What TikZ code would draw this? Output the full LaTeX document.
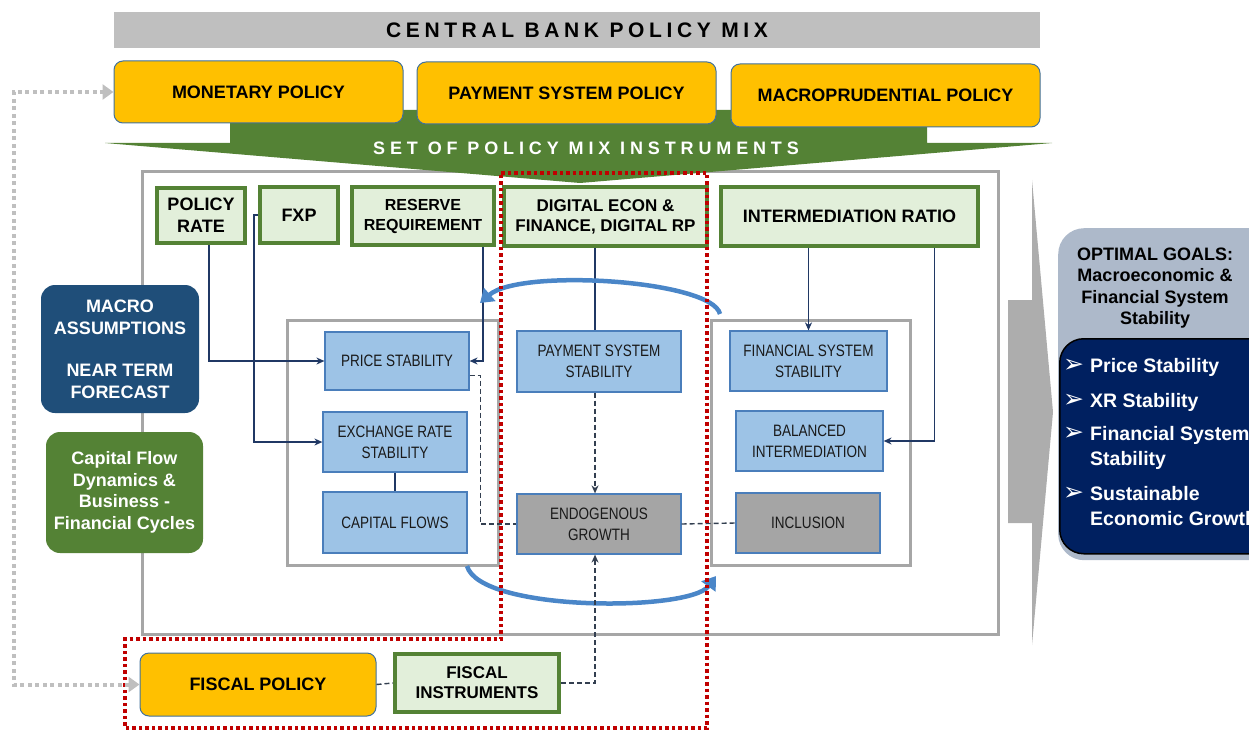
\documentclass[tikz,border=0pt]{standalone}
\usepackage{fontspec}
\setmainfont{Liberation Sans}
\newfontfamily\narrowfont[FakeStretch=0.82]{Liberation Sans}
\newfontfamily\spacedfont[LetterSpace=22]{Liberation Sans}
\newfontfamily\widespacedfont[LetterSpace=27]{Liberation Sans}
\newfontfamily\symfont{DejaVu Sans}
\usetikzlibrary{arrows.meta,calc}

\definecolor{banner}{HTML}{BFBFBF}
\definecolor{gold}{HTML}{FFC000}
\definecolor{goldline}{HTML}{41719C}
\definecolor{leaf}{HTML}{548235}
\definecolor{mint}{HTML}{E2EFDA}
\definecolor{sky}{HTML}{9DC3E6}
\definecolor{skyline}{HTML}{4A7EBB}
\definecolor{stone}{HTML}{A5A5A5}
\definecolor{framegray}{HTML}{A6A6A6}
\definecolor{navyline}{HTML}{203864}
\definecolor{dashcol}{HTML}{333F50}
\definecolor{deepblue}{HTML}{1F4E79}
\definecolor{slate}{HTML}{ADB9CA}
\definecolor{navy}{HTML}{002060}
\definecolor{redline}{HTML}{C00000}
\definecolor{loopblue}{HTML}{4A86C8}
\definecolor{fback}{HTML}{BFBFBF}
\definecolor{arrowgray}{HTML}{ADADAD}
\definecolor{textdark}{HTML}{1A1A1A}

\tikzset{
  every node/.style={inner sep=0pt, align=center},
  yellowbox/.style={draw=goldline, line width=1pt, fill=gold, rounded corners=9pt,
    font=\fontsize{18}{21}\selectfont\bfseries},
  instbox/.style={draw=leaf, line width=4pt, fill=mint},
  bluebox/.style={draw=skyline, line width=1.2pt, fill=sky, text=textdark,
    font=\narrowfont\fontsize{16.5}{21}\selectfont},
  graybox/.style={bluebox, fill=stone},
  framebox/.style={draw=framegray, line width=3pt},
  conn/.style={draw=navyline, line width=1.5pt, -{Stealth[length=8pt,width=7pt]}},
  linkline/.style={draw=navyline, line width=1.5pt},
  dashlink/.style={draw=dashcol, line width=1.4pt, dash pattern=on 5pt off 3pt},
  dasharrow/.style={dashlink, -{Stealth[length=8pt,width=7pt]}},
  loopline/.style={draw=loopblue, line width=4.5pt, -{Triangle[length=13pt,width=17pt]}},
  redzone/.style={draw=redline, line width=3.5pt, dash pattern=on 3.5pt off 3pt},
  feedback/.style={draw=fback, line width=4pt, dash pattern=on 4pt off 3.5pt,
    {Triangle[length=11pt,width=15pt]}-{Triangle[length=11pt,width=15pt]}},
  goalitem/.style={anchor=base west, text=white, font=\fontsize{19.5}{22}\selectfont\bfseries},
  bulletmark/.style={anchor=base west, text=white, font=\symfont\fontsize{25}{28}\selectfont},
}

\begin{document}
\begin{tikzpicture}[x=1pt,y=-1pt]
\useasboundingbox (0,0) rectangle (1249,730);
\clip (0,0) rectangle (1249,730);

% outer frame of the policy mix
\node[framebox, minimum width=856pt, minimum height=462pt] (outer) at (570,403) {};

% instrument banner (green arrow)
\fill[leaf] (230,110) -- (927,110) -- (927,143) -- (1052,143) -- (580,183) -- (105,143) -- (230,143) -- cycle;
\node[text=white, font=\widespacedfont\fontsize{18}{20}\selectfont\bfseries] (mixlabel) at (586,148.5) {SET OF POLICY MIX INSTRUMENTS};

% title banner
\node[fill=banner, minimum width=926pt, minimum height=36pt,
      font=\spacedfont\fontsize{21}{24}\selectfont\bfseries] (title) at (577,30) {CENTRAL BANK POLICY MIX};

% policy pillars
\node[yellowbox, minimum width=289pt, minimum height=62pt] (mon) at (258.5,92) {MONETARY POLICY};
\node[yellowbox, minimum width=299pt, minimum height=62pt] (pay) at (566.5,93) {PAYMENT SYSTEM POLICY};
\node[yellowbox, minimum width=309pt, minimum height=63pt] (mpp) at (885.5,95.5) {MACROPRUDENTIAL POLICY};

% instruments
\node[instbox, minimum width=88pt, minimum height=55pt, font=\fontsize{18}{22}\selectfont\bfseries] (prate) at (201,215.5) {POLICY\\RATE};
\node[instbox, minimum width=78pt, minimum height=56pt, font=\fontsize{18}{22}\selectfont\bfseries] (fxp) at (299,215) {FXP};
\node[instbox, minimum width=142pt, minimum height=58pt, font=\fontsize{16}{20}\selectfont\bfseries] (rr) at (423,216) {RESERVE\\REQUIREMENT};
\node[instbox, minimum width=203pt, minimum height=59pt, font=\fontsize{17}{20}\selectfont\bfseries] (dig) at (605.5,216.5) {DIGITAL ECON \&\\FINANCE, DIGITAL RP};
\node[instbox, minimum width=257pt, minimum height=59pt, font=\fontsize{18}{22}\selectfont\bfseries] (ir) at (849.5,216.5) {INTERMEDIATION RATIO};

% inner frames
\node[framebox, minimum width=211pt, minimum height=245pt] (lframe) at (392.5,442.5) {};
\node[framebox, minimum width=199pt, minimum height=245pt] (rframe) at (810.5,442.5) {};

% targets
\node[bluebox, minimum width=144pt, minimum height=58pt] (ps) at (397,361) {PRICE STABILITY};
\node[bluebox, minimum width=144pt, minimum height=60pt] (ers) at (395,442) {EXCHANGE RATE\\STABILITY};
\node[bluebox, minimum width=144pt, minimum height=61pt] (cf) at (395,522.5) {CAPITAL FLOWS};
\node[bluebox, minimum width=164pt, minimum height=61pt] (pss) at (599,361.5) {PAYMENT SYSTEM\\STABILITY};
\node[graybox, minimum width=164pt, minimum height=60pt] (eg) at (599,524) {ENDOGENOUS\\GROWTH};
\node[bluebox, minimum width=157pt, minimum height=60pt] (fss) at (808.5,361) {FINANCIAL SYSTEM\\STABILITY};
\node[bluebox, minimum width=147pt, minimum height=60pt] (bi) at (809.5,441) {BALANCED\\INTERMEDIATION};
\node[graybox, minimum width=144pt, minimum height=60pt] (inc) at (808,523) {INCLUSION};

% transmission links
\coordinate (midline) at (595,0);
\draw[conn] (prate.south) ++(8,0) |- (ps.west);
\draw[conn] (fxp.west) -- ++(-4,0) |- (ers.west);
\draw[conn] (rr.south) ++(60,0) |- (ps.east);
\draw[linkline] (midline |- dig.south) -- (midline |- pss.north);
\draw[conn] (ir.south -| fss.north) -- (fss.north);
\draw[conn] (ir.south) ++(85,0) |- (bi.east);
\draw[linkline] (ers.south) -- (cf.north);
\draw[dashlink] ($(ps.south east)+(0,-15)$) -- ++(11,0) |- (eg.west);
\draw[dasharrow] (midline |- pss.south) -- (midline |- eg.north);
\draw[dashlink] (eg.east) -- (inc.west);

% feedback loops between the policy blocks
\coordinate (looptopA) at (720,314);
\coordinate (looptopB) at (480,303);
\coordinate (loopbotA) at (467,566);
\coordinate (loopbotB) at (716,576);
\draw[loopline] (looptopA) .. controls (712,280) and (520,268) .. (looptopB);
\draw[loopline] (loopbotA) .. controls (480,612) and (690,612) .. (loopbotB);

% forecasting inputs
\node[fill=deepblue, rounded corners=14pt, minimum width=158pt, minimum height=128pt, text=white,
      font=\fontsize{18}{22}\selectfont\bfseries] (assume) at (120,349) {MACRO\\ASSUMPTIONS\\[20pt]NEAR TERM\\FORECAST};
\node[fill=leaf, rounded corners=14pt, minimum width=157pt, minimum height=121pt, text=white,
      font=\fontsize{18}{21.5}\selectfont\bfseries] (cycles) at (124.5,492.5) {Capital Flow\\Dynamics \&\\Business -\\Financial Cycles};

% arrow towards the goals
\fill[arrowgray] (1008,300) -- (1032,300) -- (1032,180) -- (1053,412) -- (1032,645) -- (1032,523) -- (1008,523) -- cycle;

% optimal goals
\node[fill=slate, rounded corners=26pt, minimum width=230pt, minimum height=332pt, anchor=north west] (goals) at (1058,228) {};
\node[text=black, font=\fontsize{18}{21.3}\selectfont\bfseries] (goalhead) at (1155,288) {OPTIMAL GOALS:\\Macroeconomic \&\\Financial System\\Stability};
\node[fill=navy, draw=black, line width=1.5pt, rounded corners=24pt, minimum width=230pt, minimum height=215pt, anchor=north west] (goallist) at (1059,338) {};
\node[bulletmark] (b1) at (1063,372) {➢};
\node[bulletmark] (b2) at (1063,407) {➢};
\node[bulletmark] (b3) at (1063,440) {➢};
\node[bulletmark] (b4) at (1063,500) {➢};
\node[goalitem] (g1) at (1090,372) {Price Stability};
\node[goalitem] (g2) at (1090,407) {XR Stability};
\node[goalitem] (g3) at (1090,440) {Financial System};
\node[goalitem] (g3b) at (1090,465) {Stability};
\node[goalitem] (g4) at (1090,500) {Sustainable};
\node[goalitem] (g4b) at (1090,525) {Economic Growth};

% fiscal side
\node[yellowbox, minimum width=236pt, minimum height=63pt] (fp) at (258,684.5) {FISCAL POLICY};
\node[instbox, minimum width=164pt, minimum height=58pt, font=\fontsize{17}{20}\selectfont\bfseries] (fi) at (477,683) {FISCAL\\INSTRUMENTS};
\draw[dashlink] (fp.east) -- (fi.west);
\draw[dasharrow] (fi.east) -| (midline |- eg.south);

% digital and fiscal coordination zone
\draw[redzone] (501,173) -- (707,173) -- (707,728) -- (125,728) -- (125,639) -- (501,639) -- cycle;

% fiscal-monetary feedback
\draw[feedback] (fp.west) -- ++(-126,0) |- (mon.west);
\end{tikzpicture}
\end{document}
